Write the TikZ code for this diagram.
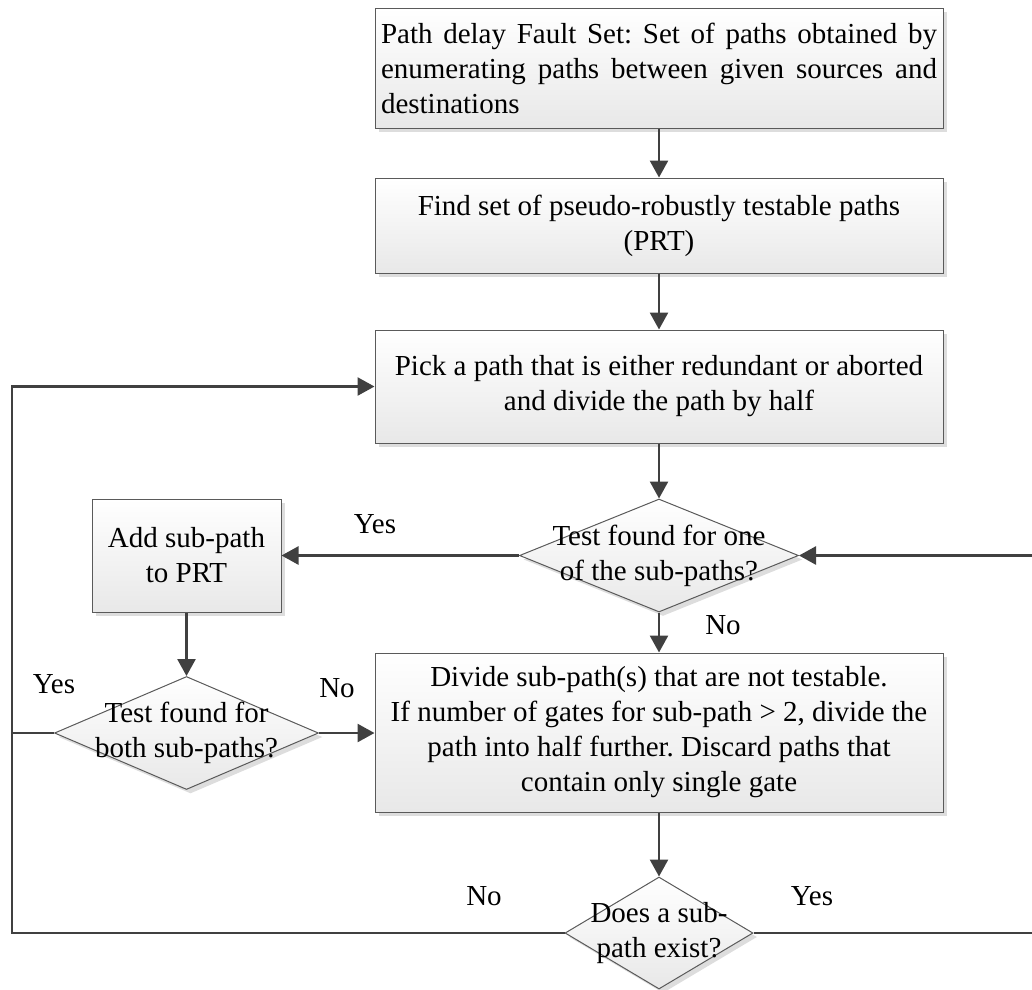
\documentclass[tikz,border=0pt]{standalone}
\usepackage{fontspec}
\setmainfont{Liberation Serif}
\usetikzlibrary{arrows.meta,shapes.geometric,shadows}
\definecolor{ln}{HTML}{404040}
\definecolor{bd}{HTML}{5A5A5A}
\definecolor{sh}{HTML}{DDDDDD}
\frenchspacing
\begin{document}
\frenchspacing
\begin{tikzpicture}[x=1pt,y=-1pt,
  font=\fontsize{29}{35}\selectfont,
  shad/.style={drop shadow={shadow xshift=4pt,shadow yshift=-4pt,fill=sh,opacity=1}},
  box/.style={rectangle, draw=bd, line width=1pt, top color=white, bottom color=black!9, shad, inner sep=0pt, align=center},
  dec/.style={diamond, draw=bd, line width=1pt, top color=white, bottom color=black!9, shad, inner sep=0pt},
  conn/.style={draw=ln, line width=2.6pt},
  arr/.style={conn, -{Triangle[length=17pt,width=18pt]}},
  lbl/.style={inner sep=0pt}
]
\useasboundingbox (0,0) rectangle (1032,989);

\node[box, minimum width=568pt, minimum height=120pt, text width=556pt, align=justify] (b1) at (659,68)
  {Path delay Fault Set: Set of paths obtained by\linebreak enumerating paths between given sources and\linebreak destinations};
\node[box, minimum width=568pt, minimum height=95pt] (b2) at (659,225.5)
  {Find set of pseudo-robustly testable paths\\(PRT)};
\node[box, minimum width=568pt, minimum height=113pt] (b3) at (659,386.5)
  {Pick a path that is either redundant or aborted\\and divide the path by half};
\node[box, minimum width=189pt, minimum height=113pt] (add) at (186.5,555.5)
  {Add sub-path\\to PRT};
\node[box, minimum width=568pt, minimum height=159pt] (b4) at (659,732.5)
  {Divide sub-path(s) that are not testable.\\If number of gates for sub-path > 2, divide the\\path into half further. Discard paths that\\contain only single gate};

\node[dec, minimum width=279pt, minimum height=113pt,
  label={[lbl,align=center]center:{Test found for one\\of the sub-paths?}}] (d1) at (659,555.5) {};
\node[dec, minimum width=264pt, minimum height=113pt,
  label={[lbl,align=center]center:{Test found for\\both sub-paths?}}] (d2) at (186.5,733) {};
\node[dec, minimum width=188pt, minimum height=112pt,
  label={[lbl,align=center]center:{Does a sub-\\path exist?}}] (d3) at (659,933) {};

\coordinate (cl) at (12,933);
\coordinate (tl) at (12,386.5);
\coordinate (cr) at (1034,933);
\coordinate (tr) at (1034,555.5);

\draw[arr] (b1) -- (b2);
\draw[arr] (b2) -- (b3);
\draw[arr] (b3) -- (d1);
\draw[arr] (d1) -- (add);
\draw[arr] (add) -- (d2);
\draw[arr] (d2.east) -- (d2.east -| b4.west);
\draw[arr] (d1) -- (b4);
\draw[arr] (b4) -- (d3);
\draw[arr] (d3.west) -- (cl) -- (tl) -- (b3.west);
\draw[conn] (d2.west) -- (d2.west -| cl);
\draw[arr] (d3.east) -- (cr) -- (tr) -- (d1.east);

\node[lbl] (yes1) at (375,524) {Yes};
\node[lbl] (no1) at (723,625) {No};
\node[lbl] (yes2) at (54,684) {Yes};
\node[lbl] (no2) at (337,688) {No};
\node[lbl] (no3) at (484,896) {No};
\node[lbl] (yes3) at (812,896) {Yes};
\end{tikzpicture}
\end{document}
